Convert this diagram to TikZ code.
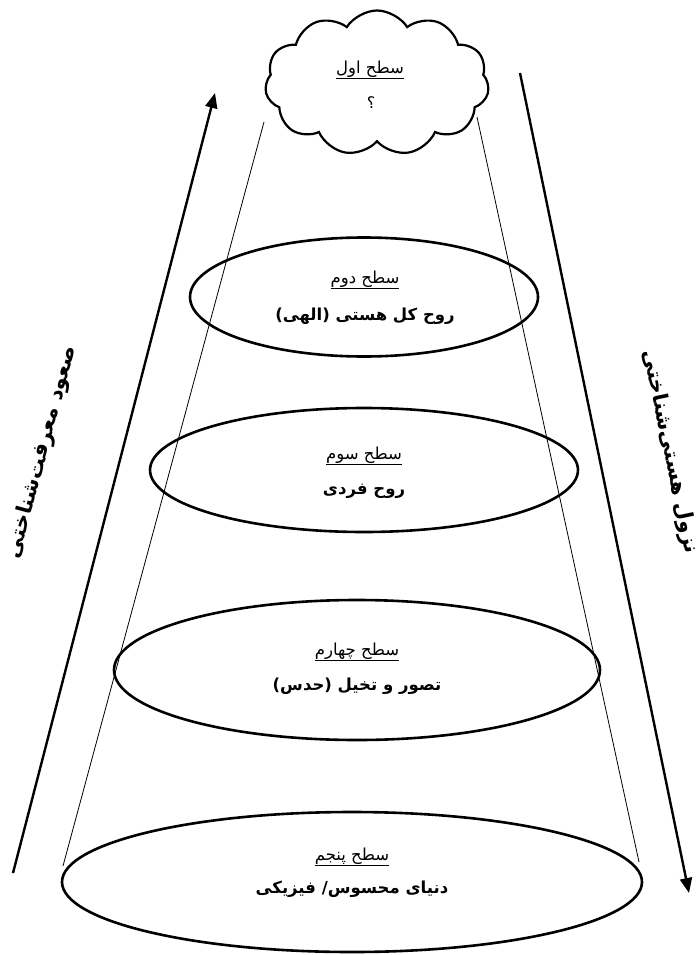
\documentclass[tikz,border=0pt]{standalone}
\usepackage{fontspec}
\usetikzlibrary{shapes.geometric,shapes.symbols,arrows.meta}
\TeXXeTstate=1
\newfontfamily\arabicfont[Script=Arabic]{DejaVu Sans}
\newcommand{\lvltitle}[1]{{\arabicfont\fontsize{16.5}{18}\selectfont\underline{\beginR #1\endR}}}
\newcommand{\lvlbold}[1]{{\arabicfont\bfseries\fontsize{16.5}{18}\selectfont\beginR #1\endR}}
\begin{document}
\begin{tikzpicture}[x=1pt,y=-1pt,
  levelring/.style={ellipse,draw,line width=2.6pt,inner sep=0pt},
  conline/.style={line width=0.8pt},
  bigarrow/.style={line width=2.4pt,-{Triangle[length=15pt,width=12pt]}},
  lbl/.style={inner sep=0pt,anchor=center},
  sidelbl/.style={inner sep=0pt,anchor=center,font=\arabicfont\bfseries\fontsize{21}{24}\selectfont}]
\useasboundingbox (0,0) rectangle (696,955);
% cone end points
\coordinate (cl1) at (264,122);
\coordinate (cl2) at (63,866);
\coordinate (cr1) at (477,117);
\coordinate (cr2) at (639,862);
\draw[conline] (cl1) -- (cl2);
\draw[conline] (cr1) -- (cr2);
% cloud
\node[cloud,draw,fill=white,line width=2.2pt,cloud puffs=11,cloud puff arc=115,aspect=1.5,minimum width=224pt,minimum height=145pt,inner sep=0pt] (lvl1) at (377,83) {};
% ellipses
\node[levelring,minimum width=348pt,minimum height=119pt] (lvl2) at (364,297) {};
\node[levelring,minimum width=428pt,minimum height=124pt] (lvl3) at (364,470) {};
\node[levelring,minimum width=486pt,minimum height=140pt] (lvl4) at (357,670) {};
\node[levelring,minimum width=580pt,minimum height=140pt] (lvl5) at (352,882) {};
% texts
\node[lbl] (t1a) at (370,70) {\lvltitle{سطح اول}};
\node[lbl] (t1b) at (371,103) {{\arabicfont\fontsize{16}{18}\selectfont ؟}};
\node[lbl] (t2a) at (365,280) {\lvltitle{سطح دوم}};
\node[lbl] (t2b) at (365,316) {\lvlbold{روح کل هستی (الهی)}};
\node[lbl] (t3a) at (364,456) {\lvltitle{سطح سوم}};
\node[lbl] (t3b) at (364,491) {\lvlbold{روح فردی}};
\node[lbl] (t4a) at (357,652) {\lvltitle{سطح چهارم}};
\node[lbl] (t4b) at (357,686) {\lvlbold{تصور و تخیل (حدس)}};
\node[lbl] (t5a) at (352,857) {\lvltitle{سطح پنجم}};
\node[lbl] (t5b) at (352,889) {\lvlbold{دنیای محسوس/ فیزیکی}};
% arrows
\coordinate (al1) at (13,873);
\coordinate (al2) at (215,93);
\coordinate (ar1) at (520,73);
\coordinate (ar2) at (689,893);
\draw[bigarrow] (al1) -- (al2);
\draw[bigarrow] (ar1) -- (ar2);
% side labels
\node[sidelbl,rotate=75] (sl) at (42,452) {\beginR صعود معرفت‌شناختی\endR};
\node[sidelbl,rotate=-78] (sr) at (670,452) {\beginR نزول هستی‌شناختی\endR};
\end{tikzpicture}
\end{document}
